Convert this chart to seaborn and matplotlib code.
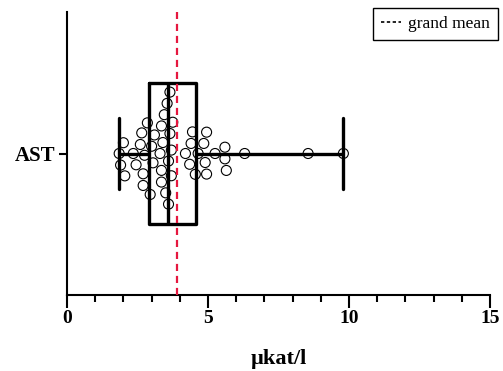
import numpy as np
import pandas as pd
import matplotlib
matplotlib.use("Agg")
import matplotlib.pyplot as plt
from matplotlib.lines import Line2D
from matplotlib.ticker import MultipleLocator
import seaborn as sns

# AST activity per sample (µkat/l)
category = "AST"
ast_values = [
    1.85, 1.90, 2.00, 2.05, 2.35, 2.45, 2.60, 2.65, 2.70, 2.70, 2.75, 2.85,
    2.95, 3.00, 3.05, 3.10, 3.30, 3.35, 3.35, 3.35, 3.40, 3.45, 3.50, 3.55,
    3.60, 3.60, 3.65, 3.65, 3.70, 3.70, 3.75, 4.20, 4.35, 4.40, 4.45, 4.55,
    4.65, 4.85, 4.90, 4.95, 4.95, 5.25, 5.60, 5.60, 5.65, 6.30, 8.55, 9.80,
]
x_ticks = [0, 5, 10, 15]
x_label = "µkat/l"
legend_label = "grand mean"

df = pd.DataFrame({"value": ast_values, "analyte": [category] * len(ast_values)})
grand_mean = float(np.mean(ast_values))

sns.set_theme(style="white")
plt.rcParams["font.family"] = ["Liberation Serif", "DejaVu Serif"]
plt.rcParams["text.color"] = "black"
plt.rcParams["axes.labelcolor"] = "black"

fig = plt.figure(figsize=(5.03, 3.71), dpi=100)
ax = fig.add_axes([67 / 503, 1 - 295 / 371, (490 - 67) / 503, (295 - 12) / 371])

# min-to-max whiskers, open box
sns.boxplot(data=df, x="value", y="analyte", orient="h", width=0.5,
            whis=(0, 100), showfliers=False, fill=False, color="black",
            linewidth=2.4, ax=ax, zorder=2)

sns.swarmplot(data=df, x="value", y="analyte", orient="h", size=7.2,
              color="black", linewidth=0.8, edgecolor="black", ax=ax, zorder=3)
for coll in ax.collections:
    coll.set_facecolor("none")
    coll.set_edgecolor("black")

ax.axvline(grand_mean, color="#e5173f", linestyle=(0, (3.2, 2.2)),
           linewidth=1.6, zorder=4)

ax.set_xlim(0, 15)
ax.set_xticks(x_ticks)
ax.xaxis.set_minor_locator(MultipleLocator(1))
ax.set_xlabel(x_label, fontsize=16, fontweight="bold", labelpad=16,
              color="black")
ax.set_ylabel("")

for side in ["top", "right"]:
    ax.spines[side].set_visible(False)
for side in ["left", "bottom"]:
    ax.spines[side].set_color("black")
    ax.spines[side].set_linewidth(1.5)

ax.tick_params(axis="x", which="major", length=9, width=1.5, color="black",
               bottom=True, pad=1.5, labelsize=14)
ax.tick_params(axis="x", which="minor", length=5, width=1.5, color="black",
               bottom=True)
ax.tick_params(axis="y", which="major", length=6, width=1.5, color="black",
               left=True, pad=2, labelsize=15)
for lbl in ax.get_xticklabels() + ax.get_yticklabels():
    lbl.set_fontweight("bold")
    lbl.set_color("black")

handle = Line2D([], [], color="black", linestyle=(0, (2, 1.5)), linewidth=1.2)
leg = fig.legend([handle], [legend_label], loc="upper right",
                 bbox_to_anchor=(498 / 503, 1 - 8 / 371),
                 bbox_transform=fig.transFigure, borderaxespad=0,
                 fontsize=12.5, handlelength=1.2, handletextpad=0.4,
                 fancybox=False, framealpha=1, borderpad=0.45)
leg.get_frame().set_edgecolor("black")
leg.get_frame().set_linewidth(1.0)
for t in leg.get_texts():
    t.set_color("black")

fig.savefig("out.png", dpi=100)
